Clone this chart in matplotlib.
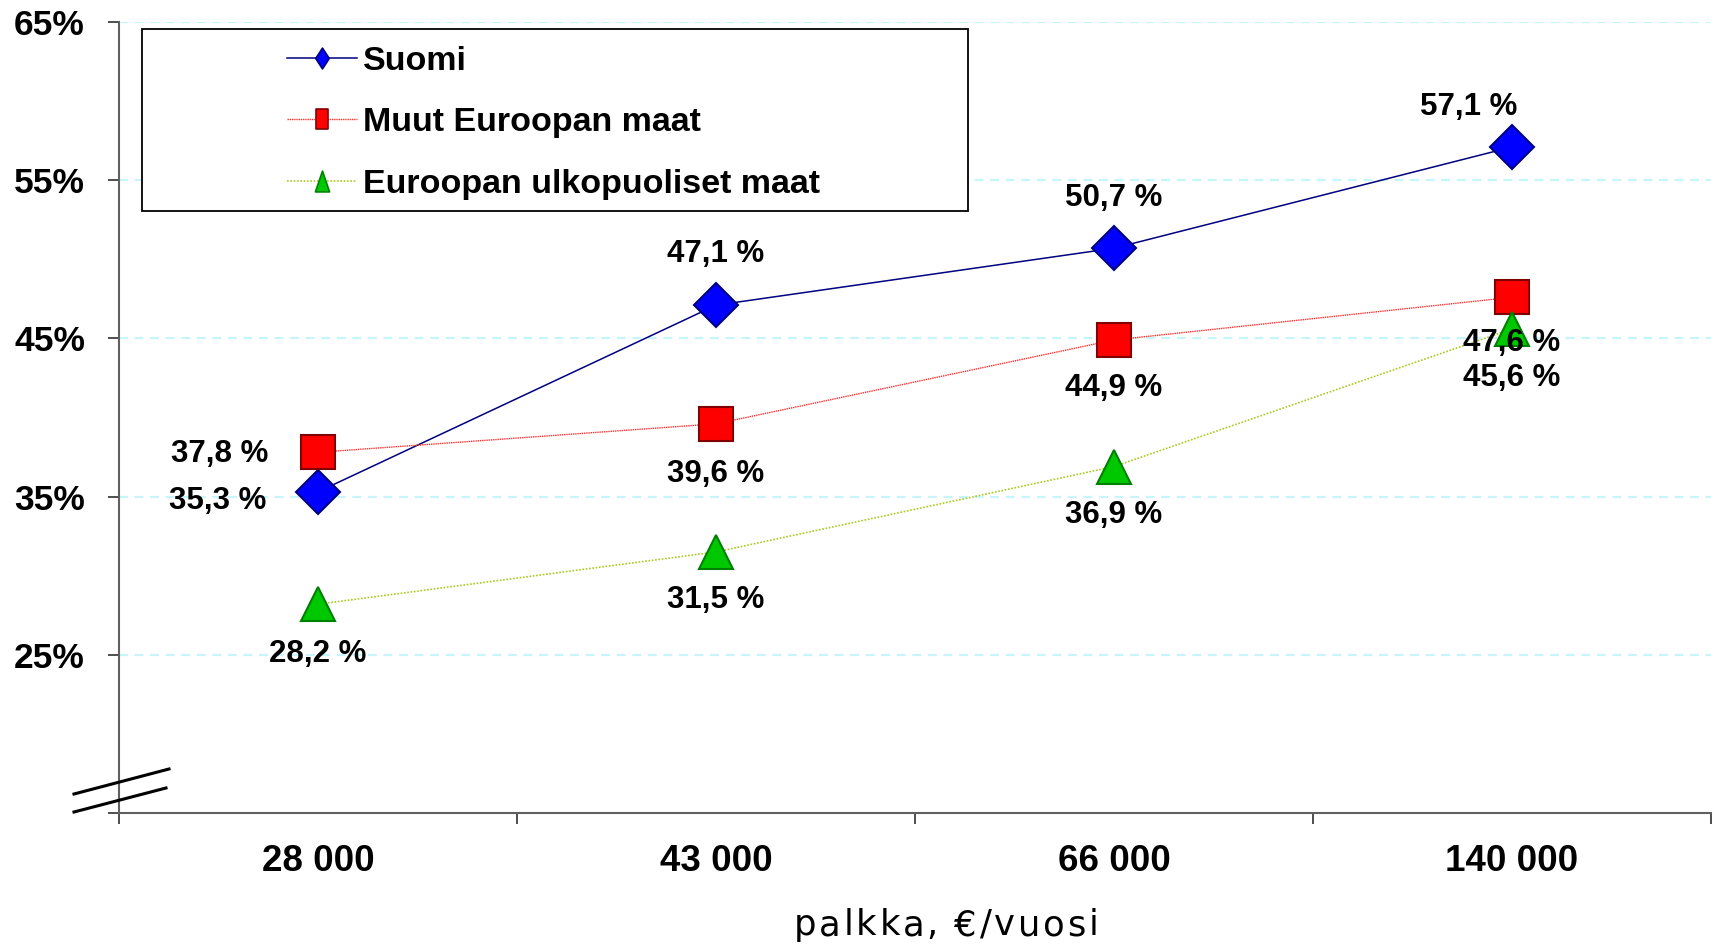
import matplotlib
matplotlib.use("Agg")
import matplotlib.pyplot as plt
from matplotlib.lines import Line2D
from matplotlib.patches import Rectangle
from matplotlib.path import Path
from matplotlib.font_manager import FontProperties

# ---- data ----
categories = ["28 000", "43 000", "66 000", "140 000"]
suomi = [35.3, 47.1, 50.7, 57.1]
muut = [37.8, 39.6, 44.9, 47.6]
ulko = [28.2, 31.5, 36.9, 45.6]
series_names = ["Suomi", "Muut Euroopan maat", "Euroopan ulkopuoliset maat"]
y_ticks = [15, 25, 35, 45, 55, 65]
y_ticklabels = ["", "25%", "35%", "45%", "55%", "65%"]
xlabel = "palkka, €/vuosi"

W, H = 1715, 944
fig = plt.figure(figsize=(W / 100, H / 100), dpi=100)
fig.patch.set_facecolor("white")

def fx(px):
    return px / W

def fy(py):
    return 1 - py / H

ax = fig.add_axes([fx(119), fy(813), (1711 - 119) / W, (813 - 22) / H])
ax.set_xlim(-0.5, 3.5)
ax.set_ylim(15, 65)

BOLD = dict(family=["Liberation Sans", "DejaVu Sans"], weight="bold")

# grid
ax.set_axisbelow(True)
for yv in y_ticks[1:]:
    ax.axhline(yv, color="#c6f5fb", lw=1.6, ls=(0, (4, 3)), zorder=0)

# spines
for s in ["top", "right"]:
    ax.spines[s].set_visible(False)
for s in ["left", "bottom"]:
    ax.spines[s].set_color("#606060")
    ax.spines[s].set_linewidth(1.5)

# ticks
ax.set_yticks(y_ticks)
ax.set_yticklabels(y_ticklabels, fontsize=25.5, **BOLD)
ax.tick_params(axis="y", length=8, width=1.3, color="#404040", pad=16.5)
ax.set_xticks([-0.5, 0.5, 1.5, 2.5, 3.5])
ax.set_xticklabels([])
ax.tick_params(axis="x", which="major", length=8, width=1.3, color="#404040")
xpos = list(range(len(categories)))
ax.set_xticks(xpos, minor=True)
ax.set_xticklabels(categories, minor=True, fontsize=26.5, **BOLD)
ax.tick_params(axis="x", which="minor", length=0, pad=22)

# series
styles = [
    dict(color="#000080", lw=1.1, ls="-", marker="D", ms=22, mfc="#0000ff", mec="#000080"),
    dict(color="#ff3030", lw=1.0, ls=(0, (1, 0.6)), marker="s", ms=24, mfc="#ff0000", mec="#800000"),
    dict(color="#a8cc20", lw=1.2, ls=(0, (1, 1)), marker="^", ms=24, mfc="#00c800", mec="#008000"),
]
data = [suomi, muut, ulko]
for vals, st in zip(data, styles):
    ax.plot(xpos, vals, mew=1.5, clip_on=False, zorder=3, **st)

# data labels (offsets in pixels: dx, dy ; dy positive = up)
offsets = [
    [(-100, -9), (0, 51), (0, 50), (-43, 40)],
    [(-98, -2), (0, -50), (0, -48), (0, -46)],
    [(0, -50), (0, -48), (0, -48), (0, -49)],
]
for vals, offs in zip(data, offsets):
    for xi, (v, (dx, dy)) in enumerate(zip(vals, offs)):
        ax.annotate(f"{v:.1f} %".replace(".", ","), (xi, v),
                    xytext=(dx * 0.72, dy * 0.72), textcoords="offset points",
                    ha="center", va="center", fontsize=22.5, zorder=4,
                    annotation_clip=False, **BOLD)

# x label with letter spacing
renderer = fig.canvas.get_renderer()
xl_prop = FontProperties(family="DejaVu Sans", size=25.5)
spacing_px = 2.7
widths = [renderer.get_text_width_height_descent(xlabel[:i], xl_prop, ismath=False)[0]
          if i > 0 else 0.0 for i in range(len(xlabel) + 1)]
total = widths[-1] + spacing_px * (len(xlabel) - 1)
x_start = 946 - total / 2
for i, ch in enumerate(xlabel):
    if ch == " ":
        continue
    fig.text(fx(x_start + widths[i] + spacing_px * i), fy(935), ch,
             ha="left", va="baseline", fontproperties=xl_prop, color="#000000")

# axis break marks
for (x0, y0, x1, y1) in [(74, 794, 169, 769), (74, 812, 166, 788)]:
    fig.add_artist(Line2D([fx(x0), fx(x1)], [fy(y0), fy(y1)],
                          transform=fig.transFigure, color="black", lw=2.2))

# legend box
fig.add_artist(Rectangle((fx(142), fy(211)), (968 - 142) / W, (211 - 29) / H,
                         transform=fig.transFigure, facecolor="white",
                         edgecolor="#000000", lw=1.3, zorder=4))

def mk(verts):
    return Path(verts + [verts[0]], closed=True)

leg_markers = [
    mk([(0, 1), (0.65, 0), (0, -1), (-0.65, 0)]),
    mk([(-0.62, -1), (0.62, -1), (0.62, 1), (-0.62, 1)]),
    mk([(0, 1), (0.68, -1), (-0.68, -1)]),
]
handles = []
for st, m in zip(styles, leg_markers):
    s2 = dict(st)
    s2["marker"] = m
    s2["ms"] = 15
    handles.append(Line2D([], [], mew=1.2, **s2))
leg = fig.legend(handles, series_names, loc="upper left",
                 bbox_to_anchor=(fx(287), fy(46)), bbox_transform=fig.transFigure,
                 frameon=False, borderpad=0, borderaxespad=0,
                 handlelength=2.05, handletextpad=0.18, labelspacing=0.89,
                 prop=dict(family="Liberation Sans", weight="bold", size=24.5))
leg.set_zorder(5)

fig.savefig("out.png", dpi=100, facecolor="white")
